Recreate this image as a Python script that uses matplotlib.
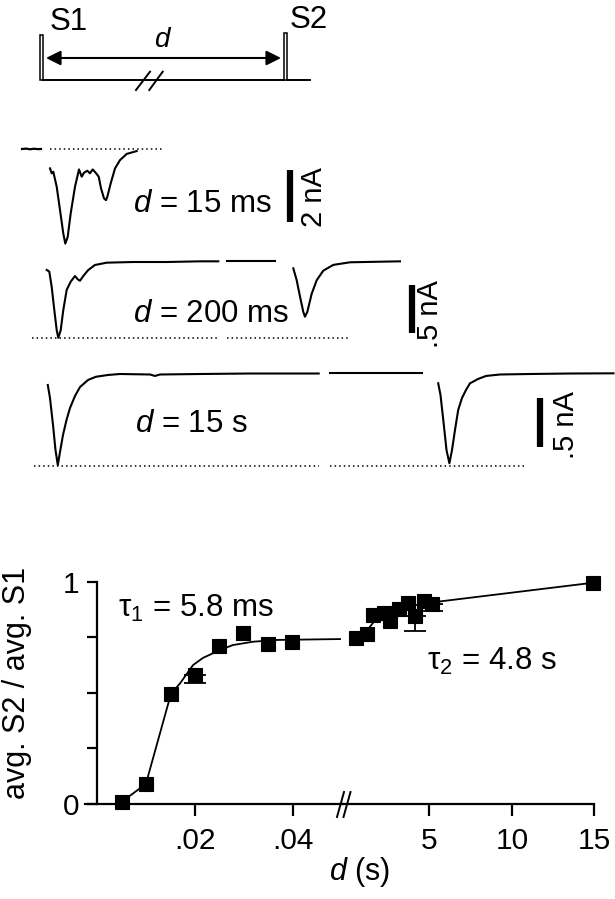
import matplotlib
matplotlib.use('Agg')
import matplotlib.pyplot as plt
from matplotlib.patches import Rectangle

plt.rcParams['font.family'] = ['Liberation Sans', 'DejaVu Sans']
plt.rcParams['mathtext.fontset'] = 'custom'
plt.rcParams['mathtext.rm'] = 'Liberation Sans'
plt.rcParams['mathtext.it'] = 'Liberation Sans:italic'
plt.rcParams['mathtext.bf'] = 'Liberation Sans:bold'

# ---------------- data ----------------
# recovery plot, short intervals (s)
left_d = [0.0051, 0.0100, 0.0151, 0.0199, 0.0249, 0.0298, 0.0349, 0.0398]
left_y = [0.010, 0.090, 0.495, 0.580, 0.711, 0.768, 0.720, 0.727]
left_err_lo = [0, 0, 0, 0.034, 0, 0, 0, 0]
fit1_d = [0.0051, 0.0100, 0.0151, 0.0170, 0.0196, 0.0216, 0.0251, 0.0277, 0.0318, 0.0367, 0.0495]
fit1_y = [0.010, 0.090, 0.495, 0.544, 0.625, 0.657, 0.693, 0.715, 0.730, 0.738, 0.742]

# long intervals (s)
right_d = [0.55, 1.19, 1.61, 2.23, 2.62, 3.16, 3.69, 4.11, 4.68, 5.19, 14.93]
right_y = [0.746, 0.765, 0.849, 0.858, 0.825, 0.878, 0.903, 0.846, 0.912, 0.900, 0.996]
right_err_lo = [0, 0, 0, 0, 0, 0, 0, 0.070, 0, 0.030, 0]
fit2_d = [0.55, 1.0, 1.8, 2.6, 3.4, 4.2, 5.5, 15.0]
fit2_y = [0.745, 0.760, 0.835, 0.860, 0.880, 0.895, 0.910, 0.996]

left_ticks = [0.02, 0.04]
left_ticklabels = ['.02', '.04']
right_ticks = [5, 10, 15]
right_ticklabels = ['5', '10', '15']
y_ticks = [0, 0.25, 0.5, 0.75, 1]
y_ticklabels = ['0', '', '', '', '1']

# current traces (x: sweep position, I: nA)
tr1_pre_x = [22, 26, 30, 34, 38, 41]
tr1_pre_I = [0.0, 0.015, -0.01, 0.01, -0.005, 0.0]
tr1_x = [50, 51.7, 53.3, 56.7, 60, 63.3, 65.3, 67.7, 70.7, 75, 79, 81.7, 84, 87.3, 90, 92.7,
         95.7, 98.7, 101, 104, 106, 107.3, 110.7, 115, 120, 126.7, 136.7]
tr1_I = [-0.75, -0.94, -0.88, -1.46, -2.36, -3.27, -3.66, -3.40, -2.49, -1.46, -0.79, -1.07,
         -0.92, -0.84, -0.94, -0.79, -0.92, -1.07, -1.52, -1.91, -1.98, -1.85, -1.33, -0.75,
         -0.43, -0.19, -0.08]

tr2a_x = [46.7, 49.3, 51.7, 54.3, 56.7, 58.3, 60.7, 63.3, 66.7, 70.7, 75, 77.7, 80, 83.3,
          88.3, 95, 106.7, 133.3, 166.7, 200, 218.3]
tr2a_I = [-0.083, -0.10, -0.26, -0.50, -0.71, -0.79, -0.71, -0.50, -0.29, -0.205, -0.146,
          -0.18, -0.195, -0.146, -0.083, -0.031, -0.007, 0.0, 0.0, 0.007, 0.007]
tr2b_x = [226.7, 275]
tr2b_I = [0.007, 0.007]
tr2c_x = [293.3, 296.7, 300, 303.3, 305, 307.3, 311.7, 316.7, 323.3, 333.3, 350, 400]
tr2c_I = [-0.066, -0.19, -0.36, -0.52, -0.57, -0.52, -0.33, -0.19, -0.09, -0.03, -0.003, 0.007]

tr3a_x = [47.8, 50, 53, 55.5, 57.8, 60, 63, 66.5, 70, 75, 80, 88, 96, 108, 120, 150, 155,
          160, 200, 250, 318.7]
tr3a_I = [-0.112, -0.245, -0.52, -0.776, -0.929, -0.796, -0.622, -0.469, -0.347, -0.224,
          -0.133, -0.061, -0.028, -0.010, 0.0, -0.005, -0.02, -0.005, 0.0, 0.005, 0.005]
tr3b_x = [330, 422.3]
tr3b_I = [0.007, 0.007]
tr3c_x = [438.2, 440.5, 443.5, 446.5, 449.4, 452, 455, 458.2, 462, 466, 470, 478, 486, 500,
          530, 570, 613.5]
tr3c_I = [-0.095, -0.214, -0.49, -0.776, -0.911, -0.776, -0.571, -0.367, -0.245, -0.163,
          -0.095, -0.051, -0.02, -0.005, 0.0, 0.005, 0.007]

# peak reference (dotted) levels, nA
peak1 = 0.0
peak2 = -0.79
peak3 = -0.939
# scale bars (nA)
bar1 = (-0.81, -2.81)
bar2 = (-0.24, -0.74)
bar3 = (-0.245, -0.745)

# ---------------- figure ----------------
W, H = 615, 899
fig = plt.figure(figsize=(W / 100, H / 100), dpi=100)


def fx(x):
    return x / W


def fy(y):
    return 1 - y / H


FS = 22.5

# overlay axes in pixel units for schematic & labels
ax_s = fig.add_axes([0, 0, 1, 1])
ax_s.set_xlim(0, W)
ax_s.set_ylim(H, 0)
ax_s.axis('off')
ax_s.patch.set_alpha(0)

LW = 1.4
# schematic
ax_s.add_patch(Rectangle((40, 35), 3.2, 45, fill=False, lw=1.1, ec='k'))
ax_s.add_patch(Rectangle((284.3, 33), 3.0, 47, fill=False, lw=1.1, ec='k'))
ax_s.plot([43.2, 284.3], [80, 80], color='k', lw=LW)
ax_s.plot([287.3, 310], [80, 80], color='k', lw=LW)
ax_s.plot([136, 150], [90, 71.7], color='k', lw=LW)
ax_s.plot([149.3, 162.7], [90, 71.7], color='k', lw=LW)
ax_s.annotate('', xy=(46, 58), xytext=(281, 58),
              arrowprops=dict(arrowstyle='<|-|>', lw=1.5, color='k', mutation_scale=22,
                              shrinkA=0, shrinkB=0))
ax_s.text(50, 30, 'S1', fontsize=FS, ha='left', va='baseline')
ax_s.text(290, 28, 'S2', fontsize=FS, ha='left', va='baseline')
ax_s.text(163, 47, '$d$', fontsize=20, ha='center', va='baseline')

# row texts
ax_s.text(133, 212, '$d$ = 15 ms', fontsize=FS, ha='left', va='baseline')
ax_s.text(133, 321.7, '$d$ = 200 ms', fontsize=FS, ha='left', va='baseline')
ax_s.text(135, 431.7, '$d$ = 15 s', fontsize=FS, ha='left', va='baseline')
ax_s.text(314, 197, '2 nA', fontsize=21, rotation=90, ha='center', va='center')
ax_s.text(430, 314, '.5 nA', fontsize=21, rotation=90, ha='center', va='center')
ax_s.text(566, 425, '.5 nA', fontsize=21, rotation=90, ha='center', va='center')


def row_axes(base, k):
    a = fig.add_axes([0, 0, 1, 1])
    a.set_xlim(0, W)
    a.set_ylim((base - H) / k, base / k)
    a.axis('off')
    a.patch.set_alpha(0)
    return a


DOT = (0, (1.0, 2.0))
TLW = 1.5

r1 = row_axes(149, 25.85)
r1.plot(tr1_pre_x, tr1_pre_I, color='k', lw=1.6)
r1.plot(tr1_x, tr1_I, color='k', lw=TLW)
r1.plot([50, 162], [peak1, peak1], color='k', lw=1.1, ls=DOT)
r1.plot([290, 290], bar1, color='k', lw=4.5, solid_capstyle='butt')

r2 = row_axes(262, 96)
r2.plot(tr2a_x, tr2a_I, color='k', lw=TLW)
r2.plot(tr2b_x, tr2b_I, color='k', lw=TLW)
r2.plot(tr2c_x, tr2c_I, color='k', lw=TLW)
r2.plot([32, 217], [peak2, peak2], color='k', lw=1.1, ls=DOT)
r2.plot([227, 348], [peak2, peak2], color='k', lw=1.1, ls=DOT)
r2.plot([412, 412], bar2, color='k', lw=4.5, solid_capstyle='butt')

r3 = row_axes(374, 98)
r3.plot(tr3a_x, tr3a_I, color='k', lw=TLW)
r3.plot(tr3b_x, tr3b_I, color='k', lw=TLW)
r3.plot(tr3c_x, tr3c_I, color='k', lw=TLW)
r3.plot([34, 319], [peak3, peak3], color='k', lw=1.1, ls=DOT)
r3.plot([330, 526], [peak3, peak3], color='k', lw=1.1, ls=DOT)
r3.plot([540, 540], bar3, color='k', lw=4.5, solid_capstyle='butt')

# ---------------- recovery plot ----------------
y0, y1 = 804, 581.7
axL = fig.add_axes([fx(96.7), fy(y0), fx(342.5) - fx(96.7), fy(y1) - fy(y0)])
axR = fig.add_axes([fx(347.7), fy(y0), fx(594.3) - fx(347.7), fy(y1) - fy(y0)])
for a in (axL, axR):
    a.patch.set_alpha(0)
    a.set_ylim(0, 1)
    for s in ['top', 'right']:
        a.spines[s].set_visible(False)
    for s in ['left', 'bottom']:
        a.spines[s].set_linewidth(1.6)
    a.tick_params(axis='x', direction='out', length=8.5, width=1.6, labelsize=21.5, pad=8)
    a.tick_params(axis='y', direction='out', length=7.5, width=1.6, labelsize=21.5, pad=5)
axR.spines['left'].set_visible(False)
axR.tick_params(axis='y', left=False, labelleft=False)

axL.set_xlim(0, 0.05)
axR.set_xlim(0.05, 15)
axL.spines['bottom'].set_bounds(-0.0024, 0.05)
axL.set_xticks(left_ticks)
axL.set_xticklabels(left_ticklabels)
axR.set_xticks(right_ticks)
axR.set_xticklabels(right_ticklabels)
axL.set_yticks(y_ticks)
axL.set_yticklabels(y_ticklabels)

MS = 10


def draw_points(ax, xs, ys, errs, fx_, fy_):
    ax.plot(fx_, fy_, color='k', lw=1.3, clip_on=False, zorder=2)
    ex = [x for x, e in zip(xs, errs) if e > 0]
    ey = [y for y, e in zip(ys, errs) if e > 0]
    ee = [e for e in errs if e > 0]
    ax.errorbar(ex, ey, yerr=[ee, [0] * len(ee)], fmt='none', ecolor='k', elinewidth=1.3,
                capsize=8, capthick=1.3, clip_on=False, zorder=2)
    ax.plot(xs, ys, 's', color='k', ms=MS, mew=0.8, clip_on=False, zorder=3)


draw_points(axL, left_d, left_y, left_err_lo, fit1_d, fit1_y)
draw_points(axR, right_d, right_y, right_err_lo, fit2_d, fit2_y)

# axis break
ax_s.plot([342.5, 347.7], [y0, y0], color='k', lw=1.6)
ax_s.plot([337, 344], [817, 792], color='k', lw=1.4)
ax_s.plot([343.5, 350.5], [817, 792], color='k', lw=1.4)

ax_s.text(118, 617, r'$\mathrm{\tau}_1$ = 5.8 ms', fontsize=FS, ha='left', va='baseline')
ax_s.text(427, 670, r'$\mathrm{\tau}_2$ = 4.8 s', fontsize=FS, ha='left', va='baseline')

fig.text(fx(17), fy(683), 'avg. S2 / avg. S1', rotation=90, ha='center', va='center',
         fontsize=22)
fig.text(fx(360), fy(872), '$d$ (s)', ha='center', va='center', fontsize=22)

fig.savefig('out.png', dpi=100)
